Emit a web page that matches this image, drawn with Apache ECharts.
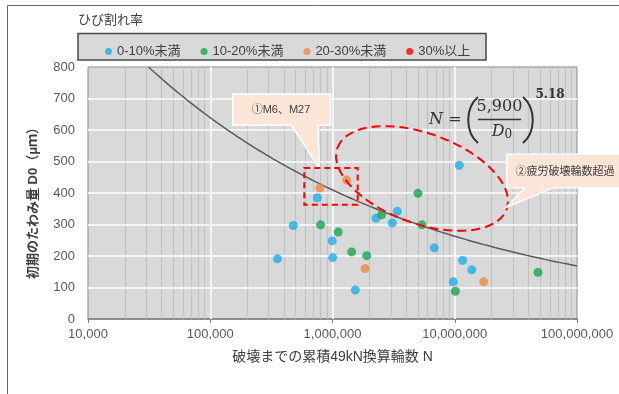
<!DOCTYPE html>
<html>
<head>
<meta charset="utf-8">
<script src="https://cdn.jsdelivr.net/npm/echarts@6/dist/echarts.min.js"></script>
<style>
  html, body { margin: 0; padding: 0; background: #ffffff; }
  #chart { width: 619px; height: 394px; }
</style>
</head>
<body>
<div id="chart"></div>
<script>
// Crack-rate classes (legend order)
const categories = ['0-10%未満', '10-20%未満', '20-30%未満', '30%以上'];

// Cumulative 49kN-equivalent wheel passes to failure (N) and initial deflection D0 (μm)
const blueN = [752000, 478000, 995000, 354000, 1003000, 10900000, 2270000, 3390000, 3085000, 6800000, 11600000, 13770000, 9730000, 1538000];
const blueD = [385, 297, 248, 191, 195, 488, 320, 342, 305, 226, 186, 156, 118, 92];

const greenN = [800000, 1114000, 5000000, 2524000, 5400000, 1435000, 1905000, 10120000, 48000000];
const greenD = [299, 276, 399, 331, 299, 213, 201, 88, 148];

const orangeN = [790000, 1306000, 1845000, 17260000];
const orangeD = [416, 441, 160, 118];

const redN = [];
const redD = [];

// Fatigue-life curve N = (5,900 / D0)^5.18
const fitK = 5900;
const fitExp = 5.18;

// Axis ticks
const xTicks = [1e4, 1e5, 1e6, 1e7, 1e8];
const yTicks = [0, 100, 200, 300, 400, 500, 600, 700, 800];

const colors = ['#1eaee8', '#19a64d', '#ee8a3e', '#ff0000'];
const FONT = '"Liberation Sans", "Noto Sans CJK JP", sans-serif';

function pairs(xs, ys) { return xs.map((x, i) => [x, ys[i]]); }

// Curve samples across the visible range (from D0 = 800 to N = 1e8)
const curve = [];
{
  const n0 = Math.pow(fitK / yTicks[yTicks.length - 1], fitExp);
  const l0 = Math.log10(n0), l1 = Math.log10(xTicks[xTicks.length - 1]);
  const steps = 120;
  for (let i = 0; i <= steps; i++) {
    const n = Math.pow(10, l0 + (l1 - l0) * i / steps);
    curve.push([n, fitK / Math.pow(n, 1 / fitExp)]);
  }
}

// Gridlines: grey minor lines at 2..9 of each decade, white major lines on top
const gridLines = [];
for (let d = 0; d < xTicks.length - 1; d++) {
  for (let m = 2; m <= 9; m++) {
    gridLines.push({ xAxis: xTicks[d] * m, lineStyle: { color: '#c2c2c2', width: 1.2, type: 'solid' } });
  }
}
xTicks.slice(1, -1).forEach(v => gridLines.push({ xAxis: v, lineStyle: { color: '#f4f4f4', width: 2, type: 'solid' } }));
yTicks.slice(1, -1).forEach(v => gridLines.push({ yAxis: v, lineStyle: { color: '#f4f4f4', width: 2, type: 'solid' } }));

const chart = echarts.init(document.getElementById('chart'), null, { renderer: 'canvas' });

const scatterSeries = [
  [blueN, blueD], [greenN, greenD], [orangeN, orangeD], [redN, redD]
].map((s, i) => ({
  name: categories[i],
  type: 'scatter',
  data: pairs(s[0], s[1]),
  symbol: 'circle',
  symbolSize: 9,
  itemStyle: { color: colors[i] },
  z: 4
}));

const option = {
  animation: false,
  textStyle: { fontFamily: FONT },
  grid: {
    left: 88, top: 67, right: 42, bottom: 75,
    show: true,
    backgroundColor: '#d9d9d9',
    borderColor: '#8a8a8a',
    borderWidth: 1
  },
  legend: {
    data: categories,
    left: 100, top: 40,
    icon: 'circle',
    itemWidth: 7, itemHeight: 7,
    itemGap: 20,
    textStyle: { fontSize: 13, color: '#404040', fontFamily: FONT }
  },
  xAxis: {
    type: 'log',
    logBase: 10,
    min: xTicks[0],
    max: xTicks[xTicks.length - 1],
    interval: 1,
    name: '破壊までの累積49kN換算輪数 N',
    nameLocation: 'middle',
    nameGap: 31,
    nameTextStyle: { fontSize: 14, color: '#404040', fontFamily: FONT },
    axisLine: { show: true, lineStyle: { color: '#7f7f7f', width: 1.5 } },
    axisTick: { show: true, length: 4, lineStyle: { color: '#7f7f7f' } },
    axisLabel: {
      fontSize: 13, color: '#595959', margin: 9,
      formatter: v => Math.round(v).toLocaleString('en-US')
    },
    splitLine: { show: false }
  },
  yAxis: {
    type: 'value',
    min: yTicks[0],
    max: yTicks[yTicks.length - 1],
    interval: 100,
    name: '初期のたわみ量 D0（μｍ）',
    nameLocation: 'middle',
    nameGap: 48,
    nameTextStyle: { fontSize: 13, fontWeight: 'bold', color: '#404040', fontFamily: FONT, padding: [0, 14, 0, 0] },
    axisLine: { show: false },
    axisTick: { show: false },
    axisLabel: { fontSize: 13, color: '#595959', margin: 13 },
    splitLine: { show: false }
  },
  series: [
    {
      name: 'grid',
      type: 'scatter',
      data: [],
      silent: true,
      z: 1,
      markLine: {
        silent: true,
        z: 1,
        symbol: ['none', 'none'],
        label: { show: false },
        emphasis: { disabled: true },
        data: gridLines
      }
    },
    {
      name: 'fit',
      type: 'line',
      data: curve,
      showSymbol: false,
      smooth: false,
      silent: true,
      lineStyle: { color: '#5a5a5a', width: 1.5 },
      z: 2
    },
    ...scatterSeries
  ],
  graphic: [
    // outer frame
    { type: 'polyline', z: 50, shape: { points: [[7.5, 394], [7.5, 5.5], [619, 5.5]] },
      style: { stroke: '#6a6a6a', lineWidth: 1, fill: null } },
    // legend title and box
    { type: 'text', z: 50, x: 78, y: 20,
      style: { text: 'ひび割れ率', fontSize: 13, fill: '#404040', fontFamily: FONT, verticalAlign: 'middle' } },
    { type: 'rect', z: 0, shape: { x: 78, y: 33.5, width: 408, height: 26.5 },
      style: { fill: '#d9d9d9', stroke: '#4a4a4a', lineWidth: 1.5 } },
    // callout ①
    { type: 'polygon', z: 60,
      shape: { points: [[232.7, 94], [330.5, 94], [330.5, 125.3], [318, 125.3], [319.3, 168], [291.7, 125.3], [232.7, 125.3]] },
      style: { fill: '#fbe5d6', stroke: '#ffffff', lineWidth: 1.5 } },
    { type: 'text', z: 61, x: 281, y: 110,
      style: { text: '①M6、M27', fontSize: 11, fill: '#404040', fontFamily: FONT, align: 'center', verticalAlign: 'middle' } },
    // dashed box around M6, M27
    { type: 'rect', z: 60, shape: { x: 304.3, y: 168, width: 53.4, height: 36.7 },
      style: { fill: null, stroke: '#ff0000', lineWidth: 2, lineDash: [6, 4] } },
    // dashed ellipse (beyond fatigue life)
    { type: 'ellipse', z: 60, x: 422, y: 178.5, rotation: -0.349,
      shape: { cx: 0, cy: 0, rx: 90, ry: 45 },
      style: { fill: null, stroke: '#ff0000', lineWidth: 2, lineDash: [9, 5] } },
    // callout ②
    { type: 'polygon', z: 60,
      shape: { points: [[506.7, 154.3], [625, 154.3], [625, 187.7], [553, 187.7], [506, 207.5], [525, 187.7], [506.7, 187.7]] },
      style: { fill: '#fbe5d6', stroke: '#ffffff', lineWidth: 1.5 } },
    { type: 'text', z: 61, x: 565, y: 171.5,
      style: { text: '②疲労破壊輪数超過', fontSize: 11, fill: '#404040', fontFamily: FONT, align: 'center', verticalAlign: 'middle' } },
    // formula N = (5,900 / D0)^5.18
    { type: 'text', z: 60, x: 436, y: 120,
      style: { text: 'N', font: 'italic 16px "DejaVu Serif"', fill: '#333333', align: 'center', verticalAlign: 'middle' } },
    { type: 'text', z: 60, x: 455, y: 120,
      style: { text: '=', font: '16px "DejaVu Serif"', fill: '#333333', align: 'center', verticalAlign: 'middle' } },
    { type: 'bezierCurve', z: 60,
      shape: { x1: 478, y1: 97, cpx1: 465, cpy1: 108, cpx2: 465, cpy2: 132, x2: 478, y2: 143 },
      style: { stroke: '#333333', lineWidth: 2, fill: null } },
    { type: 'text', z: 60, x: 499.5, y: 107,
      style: { text: '5,900', font: '16px "DejaVu Serif"', fill: '#333333', align: 'center', verticalAlign: 'middle' } },
    { type: 'line', z: 60, shape: { x1: 478, y1: 119.5, x2: 521, y2: 119.5 },
      style: { stroke: '#333333', lineWidth: 1.3 } },
    { type: 'text', z: 60, x: 502, y: 132,
      style: {
        text: '{d|D}{s|0}', align: 'center', verticalAlign: 'middle', fill: '#333333',
        rich: {
          d: { font: 'italic 16px "DejaVu Serif"', fill: '#333333' },
          s: { font: '12px "DejaVu Serif"', fill: '#333333', padding: [6, 0, 0, 0] }
        }
      } },
    { type: 'bezierCurve', z: 60,
      shape: { x1: 523, y1: 97, cpx1: 536, cpy1: 108, cpx2: 536, cpy2: 132, x2: 523, y2: 143 },
      style: { stroke: '#333333', lineWidth: 2, fill: null } },
    { type: 'text', z: 60, x: 550, y: 95,
      style: { text: '5.18', font: 'bold 12px "DejaVu Serif"', fill: '#333333', align: 'center', verticalAlign: 'middle' } }
  ]
};

chart.setOption(option);
</script>
</body>
</html>
